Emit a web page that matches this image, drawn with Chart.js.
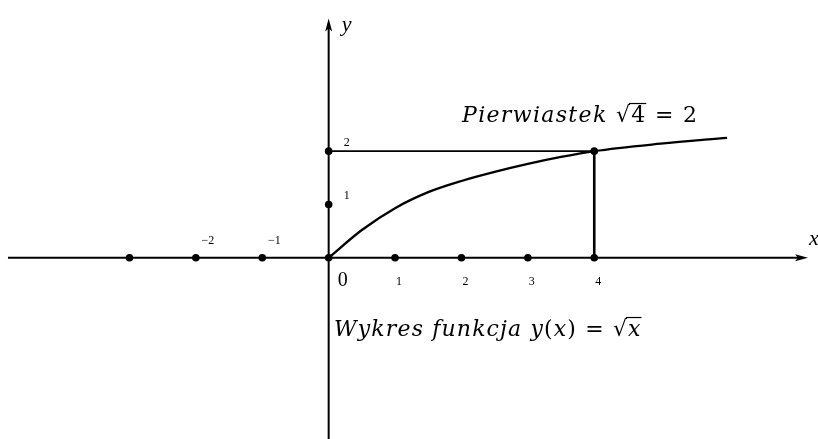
<!DOCTYPE html>
<html>
<head>
<meta charset="utf-8">
<script src="https://cdn.jsdelivr.net/npm/chart.js@4/dist/chart.umd.min.js"></script>
<style>
  html, body { margin: 0; padding: 0; background: #fff; }
  canvas { display: block; }
</style>
</head>
<body>
<canvas id="plot" width="818" height="439"></canvas>
<script>
// Curve (y = sqrt(x), as drawn)
const curveX = [0, 0.5, 1, 1.5, 2, 2.5, 3, 3.5, 4, 5, 6];
const curveY = [0, 0.52, 0.93, 1.23, 1.44, 1.61, 1.76, 1.89, 2.0, 2.14, 2.25];

// Marked points on the axes
const xDots = [-3, -2, -1, 0, 1, 2, 3, 4];
const yDots = [1, 2];
const rootPoint = { x: 4, y: 2 };

// Tick labels
const xTicksPos = ['1', '2', '3', '4'];
const xTicksNeg = ['\u22122', '\u22121'];
const yTicks = ['1', '2'];

// Axis extents (data units)
const xAxisRange = [-4.83, 7.22];
const yAxisRange = [-3.45, 4.49];
const viewX = [-4.95, 7.37];
const viewY = [-3.40, 4.835];

const titleTop = 'Pierwiastek';
const titleBottom = 'Wykres funkcja';

const SERIF = '"Liberation Serif", "DejaVu Serif", serif';
const TEXT_FONT = '"DejaVu Serif", serif';

// draws mixed italic/upright text, spread out to a target width
function drawRich(ctx, segs, x, y, size, width) {
    const fontOf = s => (s.it ? 'italic ' : '') + size + 'px ' + TEXT_FONT;
    let natural = 0, count = 0;
    segs.forEach(s => {
        ctx.font = fontOf(s);
        natural += ctx.measureText(s.t).width;
        count += s.t.length;
    });
    const extra = (width - natural) / (count - 1);
    let cx = x;
    let sqrtStart = null;
    segs.forEach(s => {
        ctx.font = fontOf(s);
        for (const ch of s.t) {
            ctx.fillText(ch, cx, y);
            cx += ctx.measureText(ch).width + extra;
        }
        if (s.over) {
            ctx.beginPath();
            ctx.lineWidth = 1.2;
            ctx.moveTo(sqrtStart, y - size * 0.84);
            ctx.lineTo(cx - extra + 1, y - size * 0.84);
            ctx.stroke();
        }
        if (s.t === '\u221A') sqrtStart = cx - extra - 1;
    });
}

const labelPlugin = {
    id: 'labels',
    afterDatasetsDraw(chart) {
        const ctx = chart.ctx;
        const sx = chart.scales.x, sy = chart.scales.y;
        ctx.save();
        ctx.fillStyle = '#000';
        ctx.strokeStyle = '#000';
        ctx.textBaseline = 'alphabetic';

        // arrowheads
        const tipX = sx.getPixelForValue(xAxisRange[1]), y0 = sy.getPixelForValue(0);
        ctx.beginPath();
        ctx.moveTo(tipX, y0);
        ctx.lineTo(tipX - 13, y0 - 3.5);
        ctx.lineTo(tipX - 10, y0);
        ctx.lineTo(tipX - 13, y0 + 3.5);
        ctx.closePath();
        ctx.fill();
        const x0 = sx.getPixelForValue(0), tipY = sy.getPixelForValue(yAxisRange[1]);
        ctx.beginPath();
        ctx.moveTo(x0, tipY);
        ctx.lineTo(x0 - 3.5, tipY + 13);
        ctx.lineTo(x0, tipY + 10);
        ctx.lineTo(x0 + 3.5, tipY + 13);
        ctx.closePath();
        ctx.fill();

        // small tick labels
        ctx.textAlign = 'center';
        ctx.font = '12px ' + SERIF;
        xTicksPos.forEach((t, i) => {
            ctx.fillText(t, sx.getPixelForValue(i + 1) + 4, y0 + 27);
        });
        xTicksNeg.forEach((t, i) => {
            ctx.fillText(t, sx.getPixelForValue(-2 + i) + 12, y0 - 14);
        });
        yTicks.forEach((t, i) => {
            ctx.fillText(t, x0 + 18, sy.getPixelForValue(i + 1) - 5);
        });
        ctx.font = '20px ' + SERIF;
        ctx.fillText('0', x0 + 14, y0 + 28);

        // axis names
        ctx.textAlign = 'left';
        ctx.font = 'italic 22px ' + SERIF;
        ctx.fillText('y', x0 + 13, tipY + 13);
        ctx.fillText('x', tipX + 1, y0 - 13);

        drawRich(ctx, [
            { t: titleTop + ' ', it: true },
            { t: '\u221A' },
            { t: '4', over: true },
            { t: ' = 2' }
        ], 462, 122, 22, 235);

        drawRich(ctx, [
            { t: titleBottom + ' ', it: true },
            { t: 'y', it: true },
            { t: '(' },
            { t: 'x', it: true },
            { t: ') = ' },
            { t: '\u221A' },
            { t: 'x', it: true, over: true }
        ], 334, 336, 22, 306);
        ctx.restore();
    }
};

const line = (pts, w) => ({
    data: pts,
    showLine: true,
    borderColor: '#000',
    borderWidth: w,
    pointRadius: 0,
    fill: false
});

new Chart(document.getElementById('plot'), {
    type: 'scatter',
    data: {
        datasets: [
            line([{ x: xAxisRange[0], y: 0 }, { x: xAxisRange[1] - 0.1, y: 0 }], 2),
            line([{ x: 0, y: yAxisRange[0] }, { x: 0, y: yAxisRange[1] - 0.1 }], 2),
            Object.assign(line(curveX.map((x, i) => ({ x: x, y: curveY[i] })), 2.3), {
                cubicInterpolationMode: 'monotone'
            }),
            line([{ x: 0, y: rootPoint.y }, rootPoint], 1.6),
            line([{ x: rootPoint.x, y: 0 }, rootPoint], 2.6),
            {
                data: xDots.map(x => ({ x: x, y: 0 }))
                    .concat(yDots.map(y => ({ x: 0, y: y })))
                    .concat([rootPoint]),
                pointRadius: 3.8,
                pointBackgroundColor: '#000',
                pointBorderWidth: 0,
                showLine: false
            }
        ]
    },
    options: {
        responsive: false,
        animation: false,
        devicePixelRatio: 1,
        layout: { padding: 0, autoPadding: false },
        plugins: { legend: { display: false }, tooltip: { enabled: false } },
        scales: {
            x: { type: 'linear', min: viewX[0], max: viewX[1], display: false },
            y: { type: 'linear', min: viewY[0], max: viewY[1], display: false }
        }
    },
    plugins: [labelPlugin]
});
</script>
</body>
</html>
